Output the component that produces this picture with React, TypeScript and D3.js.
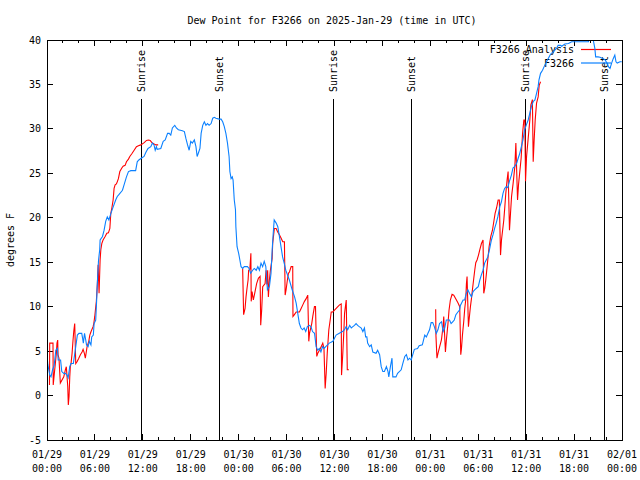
import React from "react";
import * as d3 from "d3";

const chartTitle = "Dew Point for F3266 on 2025-Jan-29 (time in UTC)";
const yAxisLabel = "degrees F";
const yTickValues = [-5, 0, 5, 10, 15, 20, 25, 30, 35, 40];
const startUtc = Date.UTC(2025, 0, 29, 0, 0);
const spanHours = 72;
const seriesNames = ["F3266 Analysis", "F3266"];
const seriesColors = ["#ff0000", "#0a80ff"];

// [hour since 01/29 00:00 UTC, label]
const sunEvents: [number, string][] = [
  [11.87, "Sunrise"], [21.57, "Sunset"], [35.9, "Sunrise"],
  [45.7, "Sunset"], [59.87, "Sunrise"], [69.78, "Sunset"],
];

// Observed F3266 dew point: [hour, degF]
const observed: [number, number][] = [
  [0.0, 4.6], [0.1, 3.5], [0.35, 2.3], [0.5, 2.1], [0.7, 2.9], [0.9, 3.4], [1.1, 5.1], [1.3, 5.3],
  [1.4, 4.0], [1.7, 4.0], [1.85, 2.7], [2.1, 2.5], [2.3, 2.5], [2.5, 2.3], [2.65, 2.0], [2.85, 3.25],
  [3.0, 3.6], [3.3, 3.6], [3.6, 5.5], [3.8, 6.8], [4.0, 7.0], [4.35, 7.0], [4.45, 6.5], [4.55, 5.9],
  [4.7, 7.0], [4.85, 6.25], [4.95, 5.7], [5.15, 5.5], [5.3, 6.1], [5.5, 5.7], [5.6, 6.6], [5.8, 6.8],
  [5.9, 8.1], [6.1, 8.5], [6.2, 10.4], [6.3, 12.6], [6.45, 15.2], [6.6, 16.4], [6.65, 17.5], [6.95, 17.9],
  [7.15, 18.6], [7.35, 19.6], [7.55, 20.1], [7.75, 19.75], [8.0, 20.5], [8.3, 21.25], [8.6, 22.0], [8.8, 22.4],
  [9.0, 22.6], [9.45, 23.1], [9.65, 23.7], [9.95, 24.6], [10.2, 25.2], [10.5, 25.3], [11.1, 25.3], [11.3, 26.3],
  [11.5, 26.5], [11.8, 26.7], [12.15, 26.9], [12.4, 27.4], [12.65, 27.8], [13.0, 28.0], [13.2, 28.4], [13.4, 28.2],
  [13.55, 27.6], [13.7, 28.0], [13.8, 27.7], [14.25, 27.8], [14.55, 28.6], [14.8, 28.75], [15.1, 29.5], [15.3, 29.5],
  [15.5, 29.3], [15.7, 30.1], [16.0, 30.4], [16.2, 30.1], [16.45, 29.9], [16.95, 29.8], [17.2, 29.7], [17.4, 28.9],
  [17.6, 28.2], [17.8, 27.6], [18.0, 28.6], [18.2, 28.4], [18.45, 28.75], [18.65, 28.0], [18.8, 26.9], [19.0, 27.4],
  [19.15, 27.8], [19.3, 29.5], [19.5, 30.4], [19.7, 30.8], [19.9, 30.4], [20.1, 30.6], [20.3, 30.4], [20.55, 30.6],
  [20.75, 31.2], [20.95, 31.3], [21.15, 31.2], [21.55, 31.1], [21.8, 31.1], [22.0, 30.8], [22.2, 30.25], [22.4, 29.5],
  [22.6, 28.4], [22.8, 26.9], [22.9, 25.2], [23.05, 24.4], [23.2, 24.6], [23.3, 24.25], [23.45, 22.0], [23.6, 20.9],
  [23.65, 19.0], [23.8, 16.75], [24.0, 16.0], [24.15, 15.25], [24.3, 14.5], [24.5, 14.3], [24.7, 14.5], [25.1, 14.5],
  [25.3, 14.3], [25.5, 13.75], [25.75, 14.1], [25.95, 14.3], [26.2, 14.1], [26.4, 14.5], [26.6, 14.1], [26.8, 14.9],
  [27.0, 14.5], [27.2, 15.1], [27.4, 14.5], [27.6, 11.9], [27.85, 12.25], [28.05, 13.75], [28.2, 16.4], [28.3, 17.9],
  [28.45, 19.75], [28.7, 19.4], [28.9, 19.0], [29.1, 17.9], [29.3, 16.75], [29.5, 15.6], [29.7, 14.9], [29.9, 14.1],
  [30.1, 13.6], [30.35, 13.0], [30.7, 11.9], [31.0, 11.1], [31.2, 10.4], [31.4, 9.25], [31.6, 8.1], [31.8, 7.6],
  [32.0, 7.4], [32.2, 7.6], [32.4, 7.2], [32.6, 7.75], [32.85, 7.9], [33.05, 7.75], [33.25, 7.2], [33.5, 7.0],
  [33.7, 5.5], [33.9, 5.1], [34.1, 5.3], [34.3, 4.9], [34.5, 5.5], [34.7, 5.3], [34.9, 5.5], [35.35, 5.9],
  [35.8, 6.1], [36.2, 6.8], [36.6, 7.0], [37.0, 7.2], [37.25, 7.4], [37.45, 7.75], [37.65, 7.4], [37.9, 7.9],
  [38.1, 7.6], [38.3, 7.75], [38.5, 7.9], [38.7, 8.1], [38.9, 7.9], [39.1, 7.75], [39.35, 7.6], [39.55, 7.2],
  [39.75, 7.6], [39.9, 6.6], [40.05, 6.6], [40.15, 5.9], [40.4, 5.5], [40.6, 5.7], [40.8, 4.9], [41.2, 4.75],
  [41.4, 5.1], [41.65, 4.6], [41.85, 3.25], [42.05, 2.7], [42.25, 2.7], [42.5, 3.25], [42.7, 2.7], [42.8, 2.1],
  [43.0, 3.25], [43.2, 4.2], [43.3, 2.1], [43.7, 2.1], [43.9, 2.5], [44.35, 2.9], [44.55, 3.6], [44.8, 4.4],
  [45.0, 4.6], [45.2, 4.0], [45.4, 4.2], [45.6, 4.0], [45.8, 4.6], [46.0, 5.2], [46.4, 5.3], [46.6, 5.6],
  [47.0, 5.7], [47.3, 6.8], [47.5, 6.6], [47.7, 7.0], [47.9, 7.4], [48.1, 8.2], [48.3, 8.2], [48.5, 7.75],
  [48.75, 7.0], [48.95, 7.4], [49.15, 8.1], [49.4, 8.3], [49.6, 7.2], [49.8, 7.6], [50.0, 8.5], [50.4, 8.5],
  [50.6, 8.1], [50.8, 8.3], [51.0, 8.5], [51.2, 9.1], [51.45, 9.4], [51.65, 9.6], [51.75, 10.1], [52.1, 10.75],
  [52.3, 10.75], [52.5, 11.5], [52.7, 11.9], [52.9, 11.5], [53.15, 11.1], [53.35, 11.7], [53.55, 11.9], [53.8, 12.1],
  [54.0, 12.25], [54.2, 13.0], [54.4, 13.6], [54.6, 14.1], [54.8, 14.9], [55.0, 15.25], [55.2, 15.6], [55.4, 16.4],
  [55.65, 17.5], [55.85, 18.1], [56.05, 18.8], [56.25, 19.4], [56.45, 20.1], [56.7, 21.25], [56.9, 21.8], [57.1, 22.75],
  [57.3, 23.3], [57.5, 23.5], [57.7, 23.4], [57.9, 24.1], [58.15, 24.8], [58.35, 25.6], [58.55, 25.75], [58.8, 26.1],
  [59.0, 26.7], [59.2, 27.25], [59.4, 28.0], [59.6, 28.75], [59.8, 29.9], [60.0, 30.4], [60.25, 31.0], [60.45, 31.75],
  [60.65, 32.5], [60.9, 33.1], [61.1, 33.25], [61.3, 34.0], [61.5, 34.75], [61.6, 35.5], [61.8, 36.25], [62.05, 36.6],
  [62.35, 37.2], [62.55, 37.55], [62.75, 37.9], [63.05, 38.4], [63.4, 38.7], [63.8, 39.05], [64.0, 39.4], [64.3, 39.4],
  [64.45, 39.3], [64.85, 39.55], [65.3, 39.6], [65.7, 39.8], [66.7, 39.8], [67.4, 39.8], [67.8, 39.8], [67.9, 40.2],
  [68.2, 40.6], [68.4, 40.0], [68.6, 39.05], [68.7, 38.1], [69.0, 38.1], [69.25, 38.05], [69.65, 37.9], [69.9, 37.75],
  [70.1, 37.4], [70.3, 37.0], [70.5, 36.8], [70.7, 37.4], [70.9, 37.9], [71.1, 38.3], [71.25, 37.55], [71.4, 37.4],
  [71.75, 37.55], [71.97, 37.55],
];

// Analysis series, three segments: [hour, degF]
const analysisSeg1: [number, number][] = [
  [0.31, 1.2], [0.34, 5.9], [0.75, 5.9], [0.78, 1.2], [0.92, 2.5], [1.17, 4.75], [1.25, 5.9], [1.34, 6.25],
  [1.38, 4.6], [1.5, 4.2], [1.6, 2.5], [1.67, 1.4], [2.1, 2.1], [2.3, 2.9], [2.42, 3.25], [2.6, 1.0],
  [2.67, -1.06], [2.76, -0.1], [2.85, 2.1], [2.92, 3.25], [3.01, 3.6], [3.14, 4.75], [3.26, 6.25], [3.35, 7.2],
  [3.47, 8.1], [3.6, 3.6], [3.76, 3.8], [3.98, 4.2], [4.18, 4.6], [4.39, 4.9], [4.52, 5.2], [4.68, 4.75],
  [4.8, 4.2], [5.02, 5.5], [5.23, 6.1], [5.36, 6.8], [5.52, 7.2], [5.77, 7.75], [5.86, 8.1], [5.98, 8.9],
  [6.06, 9.6], [6.18, 10.6], [6.31, 12.6], [6.4, 14.7], [6.52, 11.5], [6.65, 15.25], [6.74, 16.4], [6.86, 17.1],
  [7.02, 17.5], [7.28, 17.9], [7.49, 18.25], [7.69, 18.3], [7.87, 18.8], [7.99, 20.5], [8.12, 21.1], [8.28, 22.0],
  [8.4, 23.3], [8.53, 23.7], [8.69, 23.8], [8.82, 24.1], [8.94, 24.4], [9.12, 25.2], [9.37, 25.6], [9.53, 25.8],
  [9.78, 25.9], [9.95, 26.3], [10.2, 26.6], [10.37, 26.9], [10.62, 27.2], [10.91, 27.6], [11.2, 28.0], [11.45, 28.1],
  [11.75, 28.2], [12.17, 28.45], [12.46, 28.7], [12.71, 28.75], [12.92, 28.7], [13.13, 28.45], [13.42, 28.3], [13.64, 28.2],
  [13.92, 28.2],
];
const analysisSeg2: [number, number][] = [
  [24.5, 14.3], [24.62, 9.1], [24.8, 9.8], [24.92, 11.1], [25.05, 12.1], [25.18, 13.0], [25.25, 14.1], [25.4, 14.2],
  [25.53, 16.0], [25.57, 10.6], [25.68, 11.7], [25.84, 10.75], [26.05, 11.7], [26.25, 12.6], [26.47, 13.2], [26.68, 13.4],
  [26.76, 7.9], [26.88, 9.6], [27.01, 12.25], [27.31, 12.6], [27.43, 14.1], [27.53, 12.5], [27.63, 14.1], [27.72, 11.1],
  [27.85, 13.0], [27.97, 14.1], [28.19, 15.4], [28.26, 17.1], [28.47, 18.8], [28.69, 18.8], [28.89, 18.4], [29.1, 18.1],
  [29.32, 17.7], [29.52, 17.3], [29.73, 17.3], [29.82, 11.3], [29.94, 11.9], [30.07, 12.8], [30.23, 13.75], [30.36, 13.9],
  [30.57, 14.5], [30.77, 14.5], [30.8, 8.9], [30.98, 9.1], [31.2, 9.4], [31.61, 9.4], [31.82, 9.8], [32.03, 10.2],
  [32.24, 10.6], [32.45, 10.9], [32.65, 11.3], [32.78, 6.1], [32.87, 7.0], [33.15, 8.1], [33.28, 8.9], [33.49, 10.0],
  [33.62, 10.0], [33.7, 7.0], [33.78, 4.4], [33.9, 4.75], [34.12, 5.1], [34.33, 5.5], [34.53, 5.9], [34.68, 5.3],
  [34.75, 3.25], [34.83, 0.8], [34.96, 2.5], [35.09, 4.75], [35.29, 7.4], [35.46, 8.5], [35.59, 9.4], [35.79, 9.4],
  [36.0, 9.6], [36.21, 9.8], [36.42, 10.0], [36.63, 10.2], [36.84, 10.3], [36.88, 2.3], [37.04, 4.75], [37.17, 7.2],
  [37.26, 9.25], [37.47, 10.75], [37.6, 2.9], [37.8, 2.9],
];
const analysisSeg3: [number, number][] = [
  [48.67, 9.7], [48.7, 6.8], [48.83, 4.2], [48.96, 4.75], [49.17, 5.5], [49.39, 6.25], [49.59, 7.75], [49.68, 8.9],
  [49.89, 4.9], [50.01, 6.25], [50.21, 8.1], [50.34, 9.6], [50.51, 10.75], [50.72, 11.4], [50.93, 11.3], [51.18, 10.9],
  [51.47, 10.4], [51.68, 10.0], [51.81, 4.6], [51.9, 5.3], [52.02, 6.8], [52.18, 8.3], [52.31, 9.8], [52.43, 10.75],
  [52.52, 12.6], [52.6, 13.4], [52.77, 7.75], [52.85, 8.5], [53.02, 10.0], [53.15, 10.9], [53.27, 11.9], [53.44, 13.2],
  [53.56, 14.1], [53.69, 14.95], [53.85, 15.25], [54.03, 15.8], [54.19, 16.4], [54.4, 17.1], [54.6, 17.5], [54.69, 11.5],
  [54.82, 12.1], [54.94, 13.0], [55.11, 14.5], [55.36, 16.75], [55.57, 17.9], [55.78, 18.6], [55.98, 19.75], [56.11, 20.5],
  [56.29, 21.1], [56.49, 22.0], [56.64, 22.0], [56.79, 15.8], [56.91, 17.5], [57.2, 19.75], [57.33, 21.25], [57.45, 22.75],
  [57.61, 24.25], [57.74, 25.2], [57.91, 18.6], [58.04, 20.5], [58.17, 22.4], [58.37, 23.9], [58.58, 25.75], [58.71, 28.4],
  [58.92, 22.0], [59.04, 23.7], [59.37, 26.7], [59.55, 29.5], [59.71, 31.0], [59.83, 31.0], [59.92, 24.1], [60.05, 26.9],
  [60.25, 28.9], [60.46, 31.0], [60.59, 32.7], [60.78, 33.3], [60.88, 26.3], [61.0, 28.75], [61.13, 31.0], [61.3, 32.9],
  [61.5, 33.6], [61.63, 34.9], [61.8, 35.3],
];
const analysisSegments = [analysisSeg1, analysisSeg2, analysisSeg3];

const W = 640;
const H = 480;
const left = 47;
const right = 622;
const top = 40;
const bottom = 440;
const FONT = "'DejaVu Sans Mono', 'Liberation Mono', monospace";

const toDate = (h: number) => new Date(startUtc + h * 3600 * 1000);

export default function App() {
  const x = d3.scaleUtc().domain([toDate(0), toDate(spanHours)]).range([left, right]);
  const y = d3.scaleLinear().domain([-5, 40]).range([bottom, top]);

  const line = d3
    .line<[number, number]>()
    .x((d) => x(toDate(d[0])))
    .y((d) => y(d[1]));

  const minorTicks = x.ticks(d3.utcHour.every(2)!);
  const majorTicks = x.ticks(d3.utcHour.every(6)!);
  const fmtDate = d3.utcFormat("%m/%d");
  const fmtTime = d3.utcFormat("%H:%M");

  return (
    <svg
      width={W}
      height={H}
      style={{ position: "absolute", left: 0, top: 0, background: "#fff" }}
      fontFamily={FONT}
      fontSize={10}
    >
      <rect x={0} y={0} width={W} height={H} fill="#fff" />
      <defs>
        <clipPath id="plotClip">
          <rect x={left} y={top} width={right - left} height={bottom - top} />
        </clipPath>
      </defs>

      <text x={332} y={24} textAnchor="middle" fill="#000">
        {chartTitle}
      </text>

      <text transform={`translate(14,240) rotate(-90)`} textAnchor="middle" fill="#000">
        {yAxisLabel}
      </text>

      {yTickValues.map((v) => (
        <g key={"y" + v} shapeRendering="crispEdges">
          <line x1={left} x2={left + 6} y1={y(v)} y2={y(v)} stroke="#000" />
          <line x1={right - 6} x2={right} y1={y(v)} y2={y(v)} stroke="#000" />
          <text x={41} y={y(v)} dy="0.35em" textAnchor="end" fill="#000">
            {v}
          </text>
        </g>
      ))}

      {minorTicks.map((t) => {
        const isMajor = t.getUTCHours() % 6 === 0;
        const len = isMajor ? 6 : 3;
        const px = x(t);
        return (
          <g key={"xm" + t.getTime()} shapeRendering="crispEdges">
            <line x1={px} x2={px} y1={bottom} y2={bottom - len} stroke="#000" />
            <line x1={px} x2={px} y1={top} y2={top + len} stroke="#000" />
          </g>
        );
      })}
      {majorTicks.map((t) => {
        const px = x(t);
        return (
          <g key={"xl" + t.getTime()}>
            <text x={px} y={458} textAnchor="middle" fill="#000">
              {fmtDate(t)}
            </text>
            <text x={px} y={472} textAnchor="middle" fill="#000">
              {fmtTime(t)}
            </text>
          </g>
        );
      })}

      {sunEvents.map(([h, label], i) => {
        const px = x(toDate(h));
        return (
          <g key={"sun" + i}>
            <line x1={px} x2={px} y1={99} y2={bottom} stroke="#000" shapeRendering="crispEdges" />
            <text
              transform={`translate(${px},92) rotate(-90)`}
              dy="0.35em"
              textAnchor="start"
              fill="#000"
            >
              {label}
            </text>
          </g>
        );
      })}

      {seriesNames.map((name, i) => {
        const ly = 49.5 + i * 13.5;
        return (
          <g key={"lg" + i}>
            <text x={574} y={ly} dy="0.35em" textAnchor="end" fill="#000">
              {name}
            </text>
            <line x1={581} x2={611} y1={ly} y2={ly} stroke={seriesColors[i]} strokeWidth={1.2} />
          </g>
        );
      })}

      <g clipPath="url(#plotClip)" fill="none" strokeWidth={1.1}>
        {analysisSegments.map((seg, i) => (
          <path key={"a" + i} d={line(seg) || ""} stroke={seriesColors[0]} />
        ))}
        <path d={line(observed) || ""} stroke={seriesColors[1]} />
      </g>

      <rect
        x={left}
        y={top}
        width={right - left}
        height={bottom - top}
        fill="none"
        stroke="#000"
        shapeRendering="crispEdges"
      />
    </svg>
  );
}
